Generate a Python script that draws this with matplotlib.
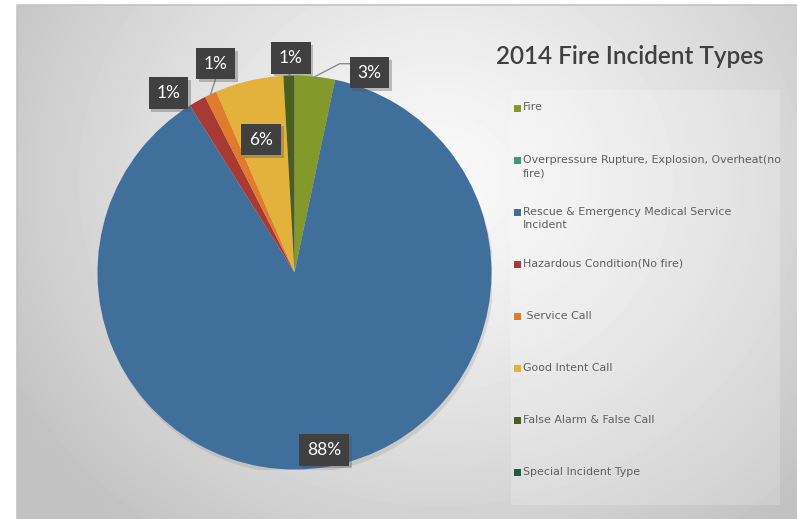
import matplotlib.pyplot as plt
import matplotlib.patheffects as pe
import numpy as np
from matplotlib.patches import Rectangle, Circle

# share of 2014 incidents (percent), clockwise from 12 o'clock
categories = [
    "Fire",
    "Overpressure Rupture, Explosion, Overheat(no\nfire)",
    "Rescue & Emergency Medical Service\nIncident",
    "Hazardous Condition(No fire)",
    " Service Call",
    "Good Intent Call",
    "False Alarm & False Call",
    "Special Incident Type",
]
shares = [3.3, 0.0, 87.8, 1.4, 1.0, 5.6, 0.9, 0.0]
colors = ["#83992a", "#3d9a72", "#416f9c", "#a83a33",
          "#e07b2b", "#e3b23d", "#4c5e1c", "#1f5b3f"]

# label placement (pie units) for the slices that get a label
label_pos = {0: (0.38, 1.015), 2: (0.15, -0.90), 3: (-0.64, 0.91),
             4: (-0.40, 1.06), 5: (-0.17, 0.675), 6: (-0.018, 1.09)}
leader = {0: True, 4: True, 6: True}

W, H = 797, 519
fig = plt.figure(figsize=(W / 100, H / 100), dpi=100)
fig.patch.set_facecolor("white")

# background with radial gradient
bg = fig.add_axes([0, 0, 1, 1])
bg.axis("off")
yy, xx = np.mgrid[5:H, 17:W]
d = np.hypot((xx - 440) / 1.0, (yy - 180) / 0.9)
shade = np.clip(0.975 - 0.19 * (d / 450) ** 1.3, 0.76, 1)
bg.imshow(shade, cmap="gray", vmin=0, vmax=1, extent=(17, W, H, 5),
          interpolation="bilinear", zorder=0)
bg.plot([17, 17, W], [H, 5, 5], color="#c4c4c4", lw=1.2, zorder=1)
bg.set_xlim(0, W)
bg.set_ylim(H, 0)

# legend panel
bg.add_patch(Rectangle((511, 90), 269, 415, facecolor="white", alpha=0.2,
                       edgecolor="none", zorder=1))

bg.text(630, 57, "2014 Fire Incident Types", fontsize=17.5, color="#404040",
        ha="center", va="center", family="Lato", weight="semibold", zorder=3)

for i, (name, c) in enumerate(zip(categories, colors)):
    y = 108 + i * 52.1
    bg.add_patch(Rectangle((514, y - 3.5), 7, 7, facecolor=c, edgecolor="none", zorder=3))
    bg.text(523, y - 5.5, name, fontsize=7.9, color="#5f5f5f", va="top", ha="left",
            family="DejaVu Sans", linespacing=1.45, zorder=3)

# pie
cx, cy, r = 294.5, 272.5, 197
ax = fig.add_axes([(cx - r) / W, (H - cy - r) / H, 2 * r / W, 2 * r / H])
shadow = Circle((0.01, -0.022), 1.0, facecolor="#707070", alpha=0.18,
                edgecolor="none", zorder=0)
ax.add_patch(shadow)
wedges, _ = ax.pie(shares, colors=colors, startangle=90, counterclock=False,
                   radius=1, wedgeprops=dict(linewidth=0))
ax.set_xlim(-1, 1)
ax.set_ylim(-1, 1)
ax.axis("off")
for w in wedges:
    w.set_zorder(1)

total = sum(shares)
for i, (lx, ly) in label_pos.items():
    pct = f"{shares[i] / total * 100:.0f}%"
    if i in leader:
        w = wedges[i]
        mid = np.deg2rad((w.theta1 + w.theta2) / 2)
        ex, ey = np.cos(mid), np.sin(mid)
        if i == 0:
            ax.plot([ex, 0.23, 0.28], [ey, 1.06, 1.06],
                    color="#8c8c8c", lw=1, zorder=2, clip_on=False)
        else:
            ax.plot([ex, lx + 0.005], [ey, ly - 0.06], color="#8c8c8c", lw=1,
                    zorder=2, clip_on=False)
    t = ax.text(lx, ly, pct, fontsize=12.5, color="white", ha="center", va="center",
                family="Lato", zorder=4, clip_on=False,
                bbox=dict(boxstyle="square,pad=0.45", facecolor="#404040",
                          edgecolor="none"))
    t.get_bbox_patch().set_path_effects(
        [pe.SimplePatchShadow(offset=(2, -2), shadow_rgbFace="#555555", alpha=0.35),
         pe.Normal()])

fig.savefig("out.png", dpi=100)
